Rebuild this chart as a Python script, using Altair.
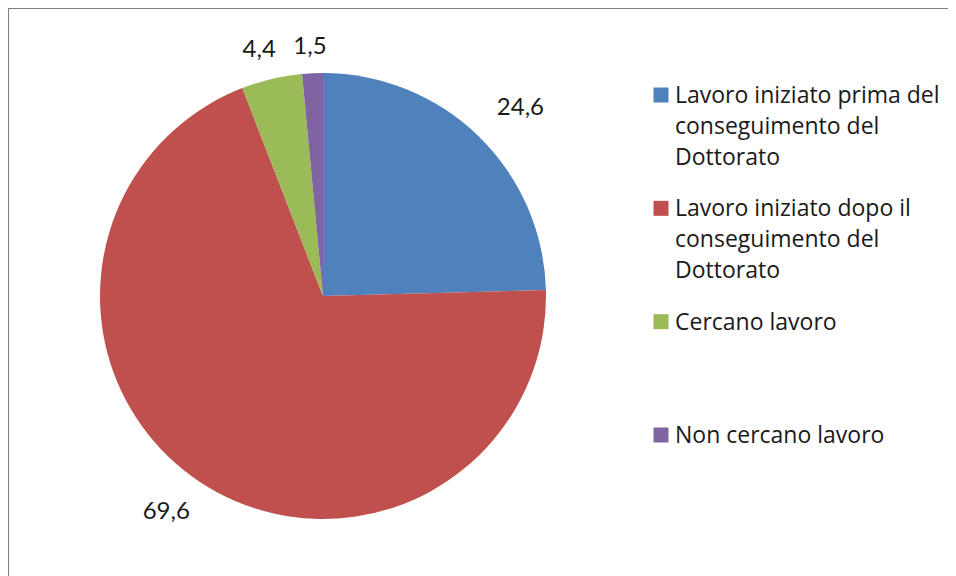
import altair as alt
import pandas as pd

categories = [
    "Lavoro iniziato prima del\nconseguimento del\nDottorato",
    "Lavoro iniziato dopo il\nconseguimento del\nDottorato",
    "Cercano lavoro",
    "Non cercano lavoro",
]
values = [24.6, 69.6, 4.4, 1.5]
value_labels = ["24,6", "69,6", "4,4", "1,5"]
colors = ["#4F81BD", "#C0504D", "#9BBB59", "#8064A2"]

df = pd.DataFrame({
    "cat": categories,
    "val": values,
    "idx": list(range(len(values))),
    "lab": value_labels,
})

color_scale = alt.Scale(domain=categories, range=colors)

pie = alt.Chart(df).mark_arc(outerRadius=223).encode(
    theta=alt.Theta("val:Q", stack=True),
    order=alt.Order("idx:Q"),
    x=alt.value(315),
    y=alt.value(288),
    color=alt.Color("cat:N", scale=color_scale, legend=None),
)

# labels placed outside the end of each slice (label box pushed clear of the rim)
labels = (
    alt.Chart(df)
    .transform_window(cum="sum(val)", sort=[alt.SortField("idx")], frame=[None, 0])
    .transform_joinaggregate(total="sum(val)")
    .transform_calculate(mid="2*PI*(datum.cum - datum.val/2)/datum.total")
    .transform_calculate(
        dx="(260 + length(datum.lab)*5.75)*sin(datum.mid)",
        dy="-(248 + 20*abs(sin(datum.mid)))*cos(datum.mid)",
    )
    .transform_calculate(
        th="atan2(datum.dx, -datum.dy)",
        r="sqrt(datum.dx*datum.dx + datum.dy*datum.dy)",
    )
    .mark_text(font="Lato", fontSize=24, color="#1a1a1a")
    .encode(
        x=alt.value(315),
        y=alt.value(288),
        theta=alt.Theta("th:Q", scale=None, stack=None),
        radius=alt.Radius("r:Q", scale=None),
        text="lab:N",
    )
)

# legend built from the same categories
legend_y = alt.Y(
    "cat:N",
    scale=alt.Scale(type="point", domain=categories, range=[87, 427], padding=0),
    axis=None,
)

leg_sym = alt.Chart(df).mark_square(size=225, opacity=1).encode(
    x=alt.value(653),
    y=legend_y,
    color=alt.Color("cat:N", scale=color_scale, legend=None),
)

leg_txt = (
    alt.Chart(df)
    .transform_calculate(lines="split(datum.cat, '\\n')")
    .mark_text(
        align="left",
        baseline="alphabetic",
        dy=8,
        font="Open Sans",
        fontSize=23,
        lineHeight=31,
        color="#1a1a1a",
    )
    .encode(
        x=alt.value(667),
        y=legend_y,
        text="lines:N",
    )
)

frame_top = alt.Chart(df).mark_rule(color="#808080", strokeWidth=2).encode(
    x=alt.value(0), x2=alt.value(940), y=alt.value(0)
)
frame_left = alt.Chart(df).mark_rule(color="#808080", strokeWidth=2).encode(
    x=alt.value(0), y=alt.value(0), y2=alt.value(568)
)

chart = (
    alt.layer(pie, labels, leg_sym, leg_txt, frame_top, frame_left)
    .properties(width=940, height=568, padding=0, autosize=alt.AutoSizeParams(type="none"))
    .configure_view(stroke="transparent", strokeWidth=0)
)

chart.save("out.html", embed_options={"renderer": "svg", "actions": False})
